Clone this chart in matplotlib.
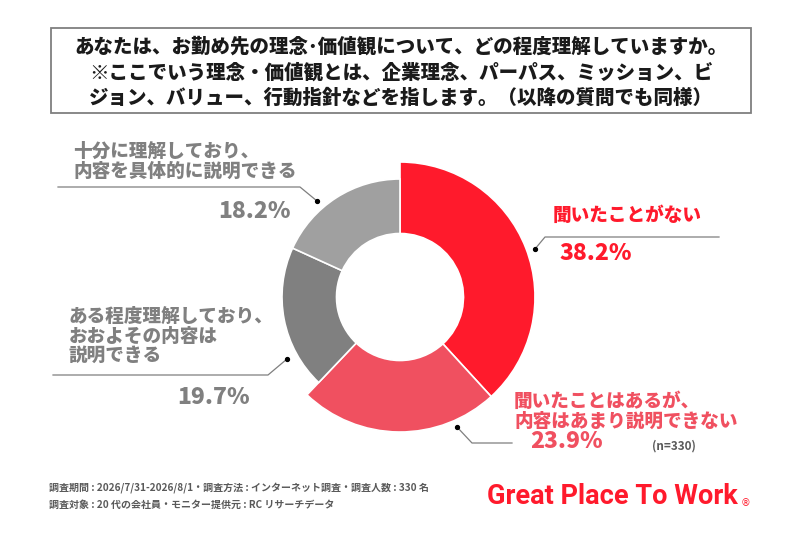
import matplotlib.pyplot as plt
from matplotlib.patches import Rectangle

plt.rcParams['font.family'] = ['Noto Sans CJK JP', 'DejaVu Sans']

# data
categories = ['聞いたことがない', '聞いたことはあるが、\n内容はあまり説明できない',
              'ある程度理解しており、\nおおよその内容は\n説明できる', '十分に理解しており、\n内容を具体的に説明できる']
shares = [38.2, 23.9, 19.7, 18.2]
pct_labels = ['38.2%', '23.9%', '19.7%', '18.2%']
colors = ['#FF1A2C', '#F05060', '#808080', '#A0A0A0']
text_colors = ['#FF1A2C', '#F05060', '#808080', '#808080']
title_lines = ['あなたは、お勤め先の理念･価値観について、どの程度理解していますか。',
               '※ここでいう理念・価値観とは、企業理念、パーパス、ミッション、ビ',
               'ジョン、バリュー、行動指針などを指します。（以降の質問でも同様）']
footer_lines = ['調査期間 : 2026/7/31-2026/8/1・調査方法 : インターネット調査・調査人数 : 330 名',
                '調査対象 : 20 代の会社員・モニター提供元 : RC リサーチデータ']
n_note = '(n=330)'

fig = plt.figure(figsize=(8, 5.33), dpi=100)
ax = fig.add_axes([0, 0, 1, 1])

# donut (pixel coords, y down)
cx, cy = 400, 297
r_in = 63.5
wedges, _ = ax.pie(shares, colors=colors, startangle=-90, counterclock=True,
                   radius=118, center=(cx, cy),
                   wedgeprops=dict(width=118 - r_in, edgecolor='white', linewidth=1.2))
for w in wedges[:2]:
    w.set_radius(135)
    w.set_width(135 - r_in)

ax.set_xlim(0, 800)
ax.set_ylim(533, 0)
ax.set_aspect('equal')
ax.axis('off')

# title box
ax.add_patch(Rectangle((51, 28), 700, 85, fill=False, edgecolor='#7F7F7F', linewidth=1.3))
for i, line in enumerate(title_lines):
    ax.text(401, 47 + i * 25.5, line, ha='center', va='center', fontsize=14,
            fontweight='heavy', color='#1A1A1A')

line_col = '#7F7F7F'
# leader lines: start point is the dot on the ring
leaders = [
    [(535, 249), (545, 237), (719, 237)],
    [(457, 427), (472, 443), (512, 443)],
    [(287, 359), (268, 375), (53, 375)],
    [(317, 201), (300, 187), (58, 187)],
]
for pts in leaders:
    xs, ys = zip(*pts)
    ax.plot(xs, ys, color=line_col, linewidth=0.9)
    ax.plot(xs[0], ys[0], 'o', color='black', markersize=2.8)

# category labels
lab_kw = dict(ha='left', va='center', fontsize=13.4, fontweight='heavy', linespacing=1.05)
ax.text(553, 215, categories[0], color=text_colors[0], **lab_kw)
ax.text(514, 411, categories[1], color=text_colors[1], **lab_kw)
ax.text(69, 336, categories[2], color=text_colors[2], **lab_kw)
ax.text(73, 161, categories[3], color=text_colors[3], **lab_kw)

# percentages
pct_kw = dict(va='center', fontsize=16.5, fontweight='heavy')
ax.text(560, 253, pct_labels[0], ha='left', color=text_colors[0], **pct_kw)
ax.text(530, 442, pct_labels[1], ha='left', color=text_colors[1], **pct_kw)
ax.text(177, 398, pct_labels[2], ha='left', color=text_colors[2], **pct_kw)
ax.text(291, 211, pct_labels[3], ha='right', color=text_colors[3], **pct_kw)

ax.text(652, 446, n_note, ha='left', va='center', fontsize=8.5,
        fontweight='bold', color='#595959')

# footer
for i, line in enumerate(footer_lines):
    ax.text(49, 488 + i * 17, line, ha='left', va='center', fontsize=7.2,
            fontweight='bold', color='#595959')

# logo
ax.text(487, 497, 'Great Place To Work', ha='left', va='center', fontsize=19.5,
        fontweight='bold', color='#FF1A2C', family='Roboto')
ax.text(741, 503, '®', ha='left', va='center', fontsize=7, color='#FF1A2C',
        family='DejaVu Sans')

fig.savefig('out.png', dpi=100)
